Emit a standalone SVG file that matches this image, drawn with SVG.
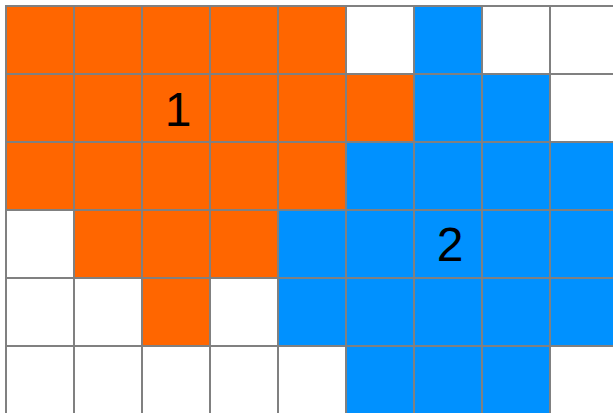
<svg xmlns="http://www.w3.org/2000/svg" width="613" height="413" viewBox="0 0 613 413">
<style>
.c{stroke:#808080;stroke-width:2}
.o{fill:#ff6600}
.b{fill:#0091ff}
.w{fill:#ffffff}
.t{font-family:"Liberation Sans",Arial,sans-serif;font-size:48px;fill:#000;text-anchor:middle}
</style>
<rect width="613" height="413" fill="#ffffff"/>
<g id="grid">
<!-- row 0 -->
<rect class="c o" x="6" y="6" width="68" height="68"/>
<rect class="c o" x="74" y="6" width="68" height="68"/>
<rect class="c o" x="142" y="6" width="68" height="68"/>
<rect class="c o" x="210" y="6" width="68" height="68"/>
<rect class="c o" x="278" y="6" width="68" height="68"/>
<rect class="c w" x="346" y="6" width="68" height="68"/>
<rect class="c b" x="414" y="6" width="68" height="68"/>
<rect class="c w" x="482" y="6" width="68" height="68"/>
<rect class="c w" x="550" y="6" width="68" height="68"/>
<!-- row 1 -->
<rect class="c o" x="6" y="74" width="68" height="68"/>
<rect class="c o" x="74" y="74" width="68" height="68"/>
<rect class="c o" x="142" y="74" width="68" height="68"/>
<rect class="c o" x="210" y="74" width="68" height="68"/>
<rect class="c o" x="278" y="74" width="68" height="68"/>
<rect class="c o" x="346" y="74" width="68" height="68"/>
<rect class="c b" x="414" y="74" width="68" height="68"/>
<rect class="c b" x="482" y="74" width="68" height="68"/>
<rect class="c w" x="550" y="74" width="68" height="68"/>
<!-- row 2 -->
<rect class="c o" x="6" y="142" width="68" height="68"/>
<rect class="c o" x="74" y="142" width="68" height="68"/>
<rect class="c o" x="142" y="142" width="68" height="68"/>
<rect class="c o" x="210" y="142" width="68" height="68"/>
<rect class="c o" x="278" y="142" width="68" height="68"/>
<rect class="c b" x="346" y="142" width="68" height="68"/>
<rect class="c b" x="414" y="142" width="68" height="68"/>
<rect class="c b" x="482" y="142" width="68" height="68"/>
<rect class="c b" x="550" y="142" width="68" height="68"/>
<!-- row 3 -->
<rect class="c w" x="6" y="210" width="68" height="68"/>
<rect class="c o" x="74" y="210" width="68" height="68"/>
<rect class="c o" x="142" y="210" width="68" height="68"/>
<rect class="c o" x="210" y="210" width="68" height="68"/>
<rect class="c b" x="278" y="210" width="68" height="68"/>
<rect class="c b" x="346" y="210" width="68" height="68"/>
<rect class="c b" x="414" y="210" width="68" height="68"/>
<rect class="c b" x="482" y="210" width="68" height="68"/>
<rect class="c b" x="550" y="210" width="68" height="68"/>
<!-- row 4 -->
<rect class="c w" x="6" y="278" width="68" height="68"/>
<rect class="c w" x="74" y="278" width="68" height="68"/>
<rect class="c o" x="142" y="278" width="68" height="68"/>
<rect class="c w" x="210" y="278" width="68" height="68"/>
<rect class="c b" x="278" y="278" width="68" height="68"/>
<rect class="c b" x="346" y="278" width="68" height="68"/>
<rect class="c b" x="414" y="278" width="68" height="68"/>
<rect class="c b" x="482" y="278" width="68" height="68"/>
<rect class="c b" x="550" y="278" width="68" height="68"/>
<!-- row 5 -->
<rect class="c w" x="6" y="346" width="68" height="68"/>
<rect class="c w" x="74" y="346" width="68" height="68"/>
<rect class="c w" x="142" y="346" width="68" height="68"/>
<rect class="c w" x="210" y="346" width="68" height="68"/>
<rect class="c w" x="278" y="346" width="68" height="68"/>
<rect class="c b" x="346" y="346" width="68" height="68"/>
<rect class="c b" x="414" y="346" width="68" height="68"/>
<rect class="c b" x="482" y="346" width="68" height="68"/>
<rect class="c w" x="550" y="346" width="68" height="68"/>
</g>
<g id="labels">
<text class="t" x="178" y="126">1</text>
<text class="t" x="450" y="261">2</text>
</g>
</svg>
